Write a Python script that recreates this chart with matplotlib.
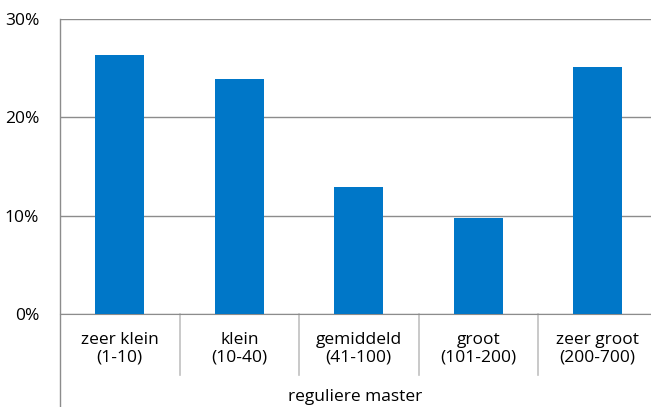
import numpy as np
import matplotlib.pyplot as plt
from matplotlib.lines import Line2D
import matplotlib.transforms as mtransforms

# Data.
categories = ["zeer klein\n(1-10)", "klein\n(10-40)", "gemiddeld\n(41-100)",
              "groot\n(101-200)", "zeer groot\n(200-700)"]
shares = [26.3, 23.9, 12.9, 9.8, 25.1]
yticks = [0, 10, 20, 30]
group_label = "reguliere master"

plt.rcParams["font.family"] = ["Open Sans", "DejaVu Sans"]
grid_color = "#8c8c8c"
fsize = 12.5

fig = plt.figure(figsize=(6.51, 4.07), dpi=100)
ax = fig.add_axes([60 / 651, 93 / 407, 597.5 / 651, 295 / 407])

x = np.arange(len(categories))
ax.bar(x, shares, width=0.41, color="#0077c8", zorder=3)

ax.set_xlim(-0.5, len(categories) - 0.5)
ax.set_ylim(0, 30)
ax.set_yticks(yticks)
ax.set_yticklabels([f"{t}%" for t in yticks], fontsize=fsize)
ax.yaxis.grid(True, color=grid_color, linewidth=1)
ax.tick_params(axis="y", length=0, pad=15)
ax.set_xticks([])

for side in ["top", "right"]:
    ax.spines[side].set_visible(False)
ax.spines["bottom"].set_color(grid_color)
ax.spines["left"].set_visible(False)

# category labels and separators below the axis
trans = mtransforms.blended_transform_factory(ax.transData, ax.transAxes)
for i, lab in enumerate(categories):
    ax.text(i, -0.117, lab, transform=trans, ha="center", va="center",
            fontsize=fsize, linespacing=1.1)
for b in np.arange(0.5, len(categories) - 0.5, 1):
    ax.add_line(Line2D([b, b], [0, -61 / 295], transform=trans,
                       color="#c0c0c0", linewidth=1.2, clip_on=False))

# left axis line running to the bottom of the figure
ax.add_line(Line2D([-0.5, -0.5], [1, -93 / 295], transform=trans,
                   color=grid_color, linewidth=1, clip_on=False))

fig.text(355 / 651, 10 / 407, group_label, ha="center", va="center", fontsize=fsize)

fig.savefig("out.png", dpi=100)
